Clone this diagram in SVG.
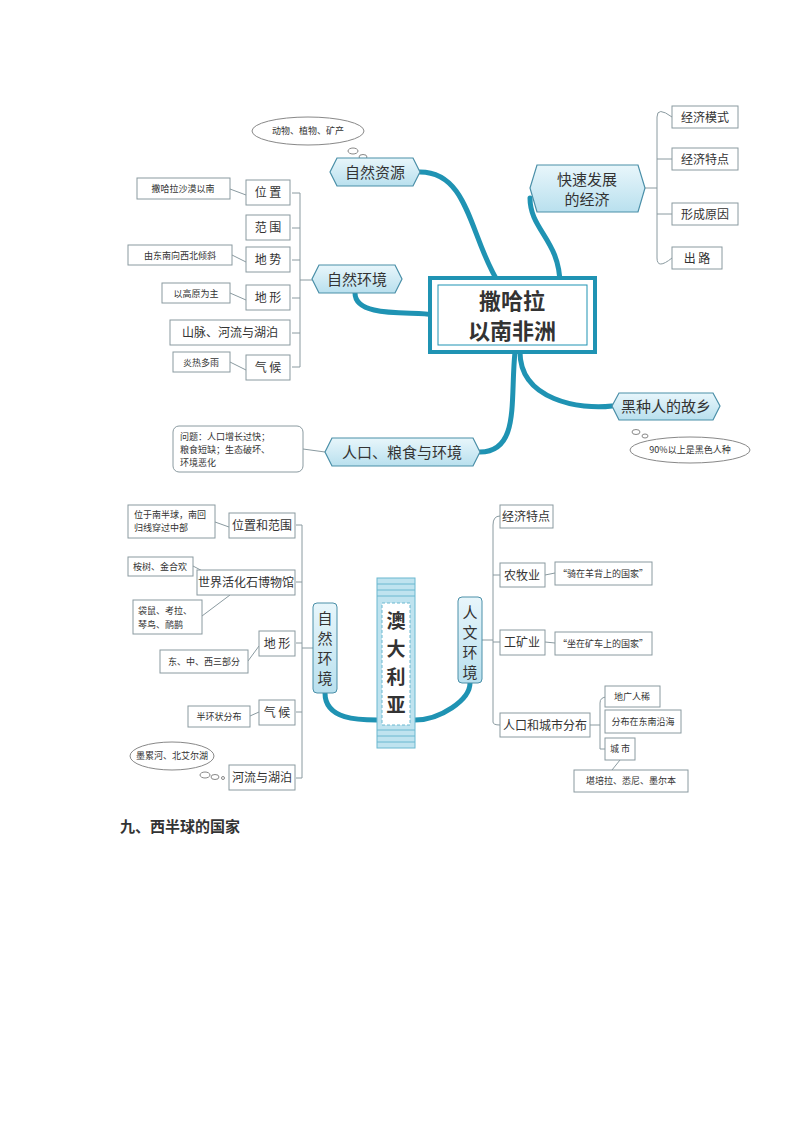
<svg xmlns="http://www.w3.org/2000/svg" width="800" height="1132" viewBox="0 0 800 1132">
<style>
text{font-family:"Noto Sans CJK SC","Noto Sans",sans-serif;fill:#333}
.sm{font-size:9px}.md{font-size:12px}.lg{font-size:15px}
.box{fill:#fff;stroke:#8a9aa0;stroke-width:1}
.hex{fill:url(#g);stroke:#4a8fa8;stroke-width:1.2}
.br{fill:none;stroke:#8a9aa0;stroke-width:1}
.th{fill:none;stroke:#1f93b3;stroke-width:5;stroke-linecap:round}
.sc{font-size:19px;font-weight:bold}
</style>
<defs><linearGradient id="g" x1="0" y1="0" x2="0" y2="1"><stop offset="0" stop-color="#e8f6fb"/><stop offset="1" stop-color="#b9e0ee"/></linearGradient></defs>
<rect width="800" height="1132" fill="#fff"/>
<g id="connectors">
<path class="th" d="M420 172 C470 172 470 240 500 285"/>
<path class="th" d="M560 285 C560 240 530 230 530 198"/>
<path class="th" d="M355 293 C355 320 420 310 432 315"/>
<path class="th" d="M520 352 C520 400 580 410 612 406"/>
<path class="th" d="M480 452 C520 452 510 400 515 352"/>
<path class="br" d="M657 117 Q657 106 672 117 M657 117 V258 Q657 270 672 258 M657 159 H672 M657 214 H672 M657 188 H645"/>
<path class="br" d="M292 193 H300 V367 H292 M292 228 H300 M292 260 H300 M292 298 H300 M292 333 H300 M300 280 H312"/>
<path class="br" d="M230 189 L246 195 M232 255 L246 262 M230 293 L246 300 M230 362 L246 370 M303 449 L325 452"/>
<path class="th" d="M325 693 C325 720 360 720 377 720 M415 720 C440 720 470 700 470 683"/>
<path class="br" d="M296 525 H302 V778 H296 M296 582 H302 M296 643 H302 M296 712 H302 M302 648 H313"/>
<path class="br" d="M215 522 L229 527 M193 566 L210 575 M202 616 L230 595 M248 661 L259 646 M250 716 L259 712"/>
<path class="br" d="M500 516 Q493 516 493 525 V722 Q493 725 500 725 M493 575 H500 M493 642 H500 M493 640 H482 M545 575 L555 573 M545 642 L555 643"/>
<path class="br" d="M590 725 H600 M607 697 Q600 697 600 703 V749 H605"/>
<path class="br" d="M620 760 L612 770"/>
</g>
<g id="n-ziran-ziyuan"><ellipse cx="308" cy="131" rx="56" ry="14" fill="#fff" stroke="#888"/><text x="308" y="134" class="sm" text-anchor="middle">动物、植物、矿产</text>
<ellipse cx="353" cy="151" rx="5" ry="3" fill="#fff" stroke="#888"/><ellipse cx="363" cy="157" rx="4" ry="2.5" fill="#fff" stroke="#888"/>
<polygon class="hex" points="337,158 413,158 420,172 413,186 337,186 330,172"/><text x="375" y="178" class="lg" text-anchor="middle">自然资源</text></g>
<g id="n-jingji"><polygon class="hex" points="537,165 638,165 645,188 638,212 537,212 530,188"/><text x="587" y="185" class="lg" text-anchor="middle">快速发展</text><text x="587" y="205" class="lg" text-anchor="middle">的经济</text>
<rect class="box" x="672" y="106" width="66" height="22"/><text x="705" y="122" class="md" text-anchor="middle">经济模式</text>
<rect class="box" x="672" y="148" width="66" height="22"/><text x="705" y="164" class="md" text-anchor="middle">经济特点</text>
<rect class="box" x="672" y="203" width="66" height="22"/><text x="705" y="219" class="md" text-anchor="middle">形成原因</text>
<rect class="box" x="672" y="247" width="50" height="22"/><text x="697" y="263" class="md" text-anchor="middle">出 路</text></g>
<g id="n-center"><rect x="430" y="278" width="165" height="74" fill="#fff" stroke="#1f93b3" stroke-width="4"/><rect x="438" y="285" width="149" height="60" fill="none" stroke="#1f93b3" stroke-width="1"/>
<text x="512" y="309" font-size="22" font-weight="bold" text-anchor="middle">撒哈拉</text><text x="512" y="339" font-size="22" font-weight="bold" text-anchor="middle">以南非洲</text></g>
<g id="n-ziran-huanjing"><polygon class="hex" points="319,265 395,265 402,279 395,293 319,293 312,279"/><text x="357" y="285" class="lg" text-anchor="middle">自然环境</text>
<rect class="box" x="246" y="180" width="44" height="25"/><text x="268" y="197" class="md" text-anchor="middle">位 置</text>
<rect class="box" x="246" y="215" width="44" height="25"/><text x="268" y="232" class="md" text-anchor="middle">范 围</text>
<rect class="box" x="246" y="247" width="44" height="25"/><text x="268" y="264" class="md" text-anchor="middle">地 势</text>
<rect class="box" x="246" y="285" width="44" height="25"/><text x="268" y="302" class="md" text-anchor="middle">地 形</text>
<rect class="box" x="170" y="320" width="120" height="25"/><text x="230" y="337" class="md" text-anchor="middle">山脉、河流与湖泊</text>
<rect class="box" x="246" y="355" width="44" height="25"/><text x="268" y="372" class="md" text-anchor="middle">气 候</text>
<rect class="box" x="137" y="178" width="93" height="21"/><text x="183" y="192" class="sm" text-anchor="middle">撒哈拉沙漠以南</text>
<rect class="box" x="128" y="245" width="104" height="20"/><text x="180" y="259" class="sm" text-anchor="middle">由东南向西北倾斜</text>
<rect class="box" x="162" y="283" width="68" height="20"/><text x="196" y="297" class="sm" text-anchor="middle">以高原为主</text>
<rect class="box" x="173" y="352" width="57" height="20"/><text x="201" y="366" class="sm" text-anchor="middle">炎热多雨</text></g>
<g id="n-heizhong"><polygon class="hex" points="619,393 713,393 720,406 713,420 619,420 612,406"/><text x="666" y="412" class="lg" text-anchor="middle">黑种人的故乡</text>
<ellipse cx="690" cy="450" rx="60" ry="13" fill="#fff" stroke="#888"/><text x="690" y="453" class="sm" text-anchor="middle">90%以上是黑色人种</text>
<ellipse cx="636" cy="432" rx="4" ry="2.5" fill="#fff" stroke="#888"/><ellipse cx="645" cy="436" rx="3" ry="2" fill="#fff" stroke="#888"/></g>
<g id="n-renkou"><polygon class="hex" points="332,438 473,438 480,452 473,466 332,466 325,452"/><text x="402" y="458" class="lg" text-anchor="middle">人口、粮食与环境</text>
<rect class="box" x="173" y="426" width="130" height="46" rx="6"/><text x="180" y="440" class="sm">问题：人口增长过快；</text><text x="180" y="453" class="sm">粮食短缺；生态破坏、</text><text x="180" y="466" class="sm">环境恶化</text></g>
<g id="n-aodaliya"><rect x="377" y="578" width="38" height="170" fill="#bfe3ef" stroke="#6bb8d0"/>
<path d="M377 584 H415 M377 590 H415 M377 596 H415 M377 730 H415 M377 736 H415 M377 742 H415" stroke="#6bb8d0"/>
<rect x="382" y="603" width="28" height="122" fill="#fff" stroke="#6bb8d0" stroke-dasharray="3,2"/>
<text x="396" y="628" class="sc" text-anchor="middle">澳</text><text x="396" y="656" class="sc" text-anchor="middle">大</text><text x="396" y="684" class="sc" text-anchor="middle">利</text><text x="396" y="712" class="sc" text-anchor="middle">亚</text></g>
<g id="n-au-ziran"><rect x="313" y="603" width="24" height="90" rx="4" fill="url(#g)" stroke="#4a8fa8"/>
<text x="325" y="624" class="lg" text-anchor="middle">自</text><text x="325" y="644" class="lg" text-anchor="middle">然</text><text x="325" y="664" class="lg" text-anchor="middle">环</text><text x="325" y="684" class="lg" text-anchor="middle">境</text>
<rect class="box" x="229" y="513" width="66" height="25"/><text x="262" y="530" class="md" text-anchor="middle">位置和范围</text>
<rect class="box" x="197" y="570" width="98" height="25"/><text x="246" y="587" class="md" text-anchor="middle">世界活化石博物馆</text>
<rect class="box" x="259" y="631" width="36" height="25"/><text x="277" y="648" class="md" text-anchor="middle">地 形</text>
<rect class="box" x="259" y="700" width="36" height="25"/><text x="277" y="717" class="md" text-anchor="middle">气 候</text>
<rect class="box" x="229" y="765" width="66" height="25"/><text x="262" y="782" class="md" text-anchor="middle">河流与湖泊</text>
<rect class="box" x="128" y="505" width="87" height="33"/><text x="134" y="518" class="sm">位于南半球，南回</text><text x="134" y="531" class="sm">归线穿过中部</text>
<rect class="box" x="128" y="557" width="65" height="19"/><text x="133" y="570" class="sm">桉树、金合欢</text>
<rect class="box" x="133" y="600" width="69" height="34"/><text x="138" y="614" class="sm">袋鼠、考拉、</text><text x="138" y="628" class="sm">琴鸟、鸸鹋</text>
<rect class="box" x="160" y="650" width="88" height="23"/><text x="204" y="665" class="sm" text-anchor="middle">东、中、西三部分</text>
<rect class="box" x="188" y="706" width="62" height="21"/><text x="219" y="720" class="sm" text-anchor="middle">半环状分布</text>
<ellipse cx="172" cy="756" rx="42" ry="14" fill="#fff" stroke="#888"/><text x="172" y="759" class="sm" text-anchor="middle">墨累河、北艾尔湖</text>
<ellipse cx="205" cy="775" rx="5" ry="3" fill="#fff" stroke="#888"/><ellipse cx="215" cy="777" rx="4" ry="2.5" fill="#fff" stroke="#888"/><circle cx="223" cy="778" r="1.5" fill="#fff" stroke="#888"/></g>
<g id="n-au-renwen"><rect x="458" y="597" width="24" height="86" rx="4" fill="url(#g)" stroke="#4a8fa8"/>
<text x="470" y="618" class="lg" text-anchor="middle">人</text><text x="470" y="638" class="lg" text-anchor="middle">文</text><text x="470" y="658" class="lg" text-anchor="middle">环</text><text x="470" y="678" class="lg" text-anchor="middle">境</text>
<rect class="box" x="500" y="505" width="53" height="23"/><text x="526" y="521" class="md" text-anchor="middle">经济特点</text>
<rect class="box" x="500" y="563" width="45" height="24"/><text x="522" y="580" class="md" text-anchor="middle">农牧业</text>
<rect class="box" x="500" y="630" width="45" height="25"/><text x="522" y="647" class="md" text-anchor="middle">工矿业</text>
<rect class="box" x="500" y="713" width="90" height="24"/><text x="545" y="730" class="md" text-anchor="middle">人口和城市分布</text>
<rect class="box" x="555" y="562" width="97" height="23"/><text x="603" y="577" class="sm" text-anchor="middle">“骑在羊背上的国家”</text>
<rect class="box" x="555" y="632" width="97" height="23"/><text x="603" y="647" class="sm" text-anchor="middle">“坐在矿车上的国家”</text>
<rect class="box" x="605" y="686" width="55" height="21"/><text x="632" y="700" class="sm" text-anchor="middle">地广人稀</text>
<rect class="box" x="605" y="710" width="76" height="23"/><text x="643" y="725" class="sm" text-anchor="middle">分布在东南沿海</text>
<rect class="box" x="605" y="738" width="30" height="22"/><text x="620" y="752" class="sm" text-anchor="middle">城 市</text>
<rect class="box" x="574" y="770" width="114" height="22"/><text x="631" y="784" class="sm" text-anchor="middle">堪培拉、悉尼、墨尔本</text></g>
<text x="120" y="832" font-size="15" font-weight="bold" fill="#000">九、西半球的国家</text>
</svg>
